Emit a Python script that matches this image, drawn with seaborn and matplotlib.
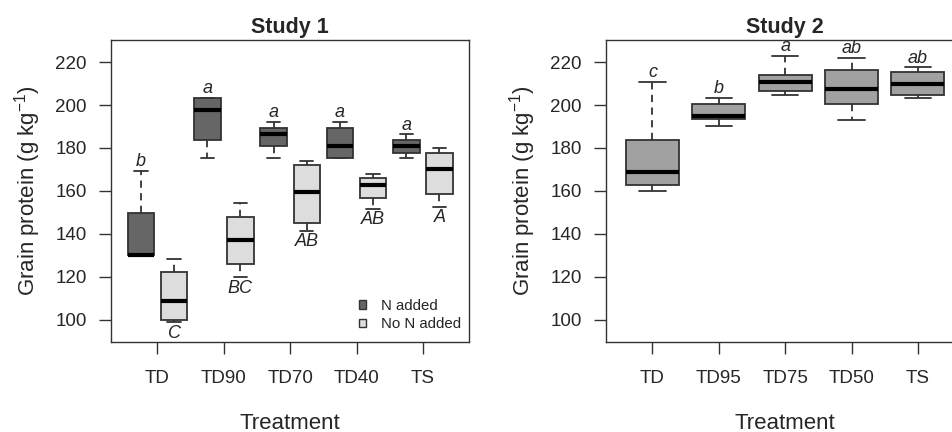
import numpy as np
import pandas as pd
import matplotlib
matplotlib.use("Agg")
import matplotlib.pyplot as plt
from matplotlib.patches import Patch
import seaborn as sns

# Study 1: five values per box (min, q1, median, q3, max)
treat1 = ["TD", "TD90", "TD70", "TD40", "TS"]
s1_n_added = [
    [130.0, 130.0, 130.0, 149.7, 169.3],
    [175.3, 183.7, 197.8, 203.4, 203.4],
    [175.3, 180.9, 186.5, 189.4, 192.2],
    [175.3, 175.3, 180.9, 189.4, 192.2],
    [175.3, 177.9, 181.0, 183.7, 186.3],
]
s1_no_n = [
    [98.8, 99.9, 108.6, 122.2, 128.1],
    [119.7, 126.2, 137.0, 148.0, 154.6],
    [141.5, 144.9, 159.3, 172.0, 174.0],
    [151.8, 156.8, 162.7, 165.8, 167.7],
    [152.6, 158.7, 170.2, 177.6, 179.8],
]
s1_letters_n = ["b", "a", "a", "a", "a"]
s1_letters_no = ["C", "BC", "AB", "AB", "A"]

# Study 2
treat2 = ["TD", "TD95", "TD75", "TD50", "TS"]
s2_values = [
    [159.8, 162.6, 168.8, 183.5, 210.8],
    [190.3, 193.6, 195.0, 200.3, 203.5],
    [204.6, 206.5, 210.8, 214.2, 222.8],
    [193.1, 200.7, 207.6, 216.1, 222.1],
    [203.5, 204.8, 210.0, 215.5, 217.5],
]
s2_letters = ["c", "b", "a", "ab", "ab"]

hue_levels = ["N added", "No N added"]
dark = "#666666"
light = "#DDDDDD"
mid = "#A1A1A1"
edge = "#333333"

rows = []
for t, a, b in zip(treat1, s1_n_added, s1_no_n):
    rows += [(t, hue_levels[0], v) for v in a]
    rows += [(t, hue_levels[1], v) for v in b]
df1 = pd.DataFrame(rows, columns=["treatment", "nitrogen", "protein"])
df2 = pd.DataFrame([(t, v) for t, vals in zip(treat2, s2_values) for v in vals],
                   columns=["treatment", "protein"])

sns.set_style("ticks")
plt.rcParams["font.family"] = ["Liberation Sans", "DejaVu Sans"]
plt.rcParams["mathtext.fontset"] = "custom"
plt.rcParams["mathtext.rm"] = "Liberation Sans"
plt.rcParams["mathtext.it"] = "Liberation Sans:italic"

fig = plt.figure(figsize=(9.53, 4.32), dpi=100)
ax1 = fig.add_axes([0.1165, 0.209, 0.376, 0.698])
ax2 = fig.add_axes([0.6359, 0.209, 0.376, 0.698])

box_kw = dict(
    linecolor=edge, linewidth=1.3, showfliers=False, legend=False,
    whiskerprops=dict(linestyle=(0, (4, 3))),
    medianprops=dict(color="black", linewidth=3),
    capprops=dict(linestyle="-"),
)

sns.boxplot(data=df1, x="treatment", y="protein", hue="nitrogen",
            order=treat1, hue_order=hue_levels, palette=[dark, light],
            width=1.0, gap=0.2, dodge=True, ax=ax1, **box_kw)
sns.boxplot(data=df2, x="treatment", y="protein", order=treat2,
            color=mid, saturation=1, width=0.8, ax=ax2, **box_kw)

# significance letters
for i, (vals, lab) in enumerate(zip(s1_n_added, s1_letters_n)):
    ax1.text(i - 0.25, max(vals) + 0.3, lab, ha="center", va="bottom",
             style="italic", fontsize=13)
for i, (vals, lab) in enumerate(zip(s1_no_n, s1_letters_no)):
    ax1.text(i + 0.25, min(vals) - 1.2, lab, ha="center", va="top",
             style="italic", fontsize=13)
for i, (vals, lab) in enumerate(zip(s2_values, s2_letters)):
    ax2.text(i, max(vals) + 0.3, lab, ha="center", va="bottom",
             style="italic", fontsize=13)

for ax, title in [(ax1, "Study 1"), (ax2, "Study 2")]:
    ax.set_ylim(89.8, 230.2)
    ax.set_xlim(-0.7, 4.7)
    ax.set_yticks(np.arange(100, 221, 20))
    ax.set_title(title, fontsize=15.5, fontweight="bold", pad=5)
    ax.set_xlabel("Treatment", fontsize=16)
    ax.set_ylabel(r"Grain protein (g kg$^{-1}$)", fontsize=16)
    ax.tick_params(axis="both", direction="out", length=8.4, width=1.0,
                   color=edge, labelsize=13.5)
    ax.tick_params(axis="x", pad=12)
    ax.tick_params(axis="y", pad=8.9)
    for s in ax.spines.values():
        s.set_visible(True)
        s.set_color(edge)
        s.set_linewidth(1.0)
    ax.xaxis.set_label_coords(0.5, -0.235)
    ax.yaxis.set_label_coords(-0.19, 0.5)

handles = [Patch(facecolor=dark, edgecolor=edge, linewidth=1.0),
           Patch(facecolor=light, edgecolor=edge, linewidth=1.0)]
ax1.legend(handles, hue_levels, loc="upper left", bbox_to_anchor=(0.691, 0.142),
           frameon=False, fontsize=10.8, handlelength=0.5, handleheight=0.5,
           handletextpad=1.0, labelspacing=0.3, borderpad=0, borderaxespad=0)

fig.savefig("out.png", dpi=100)
